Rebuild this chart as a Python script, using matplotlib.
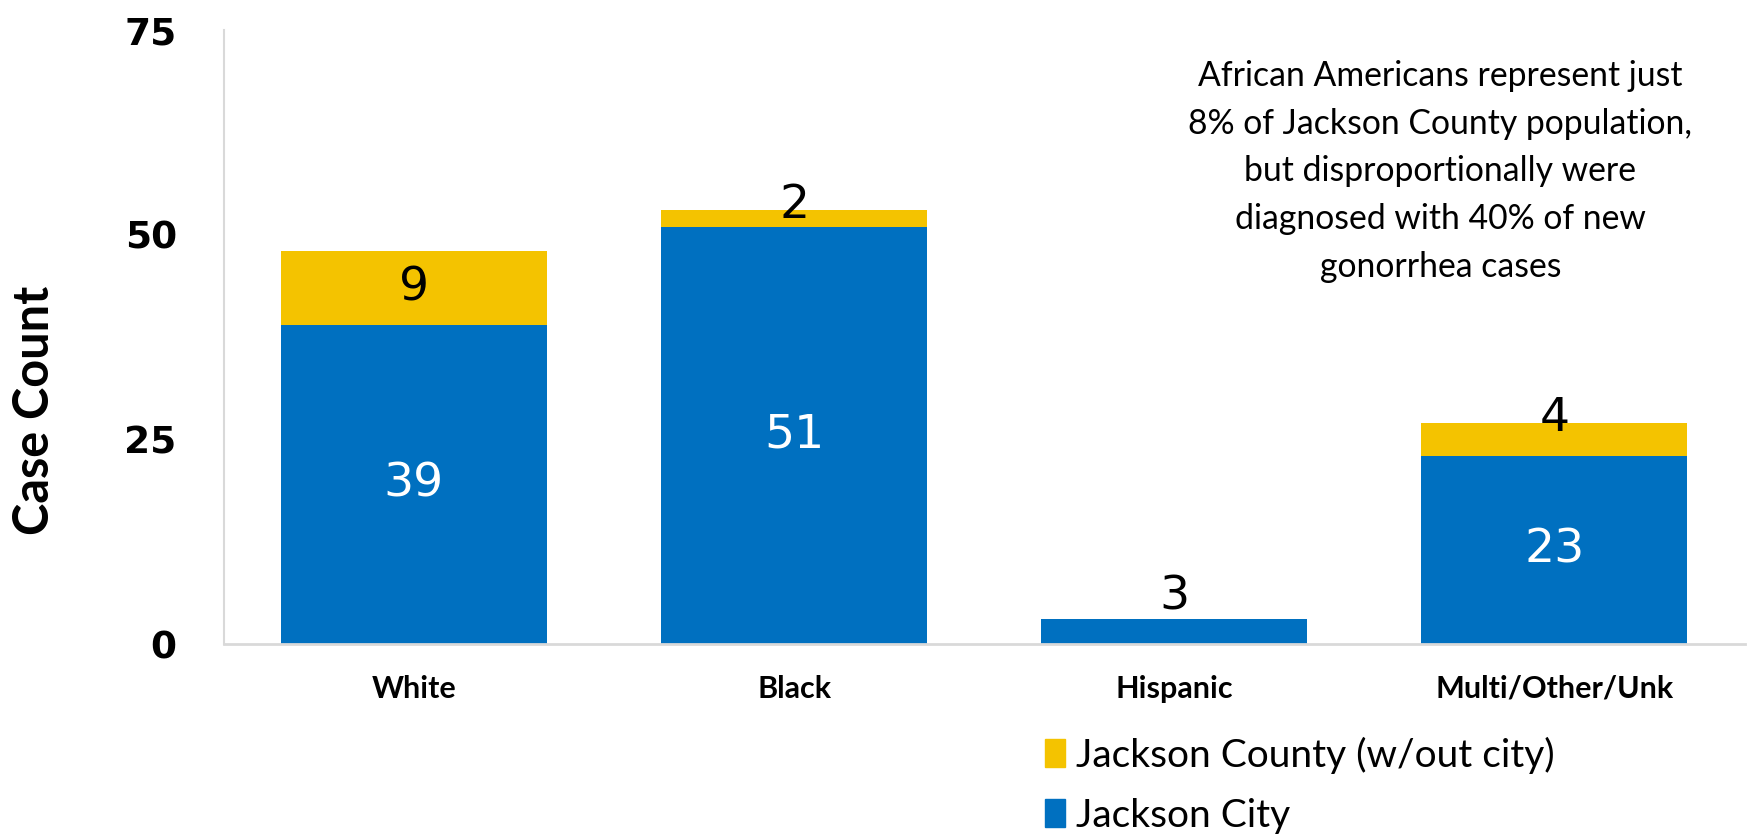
import matplotlib.pyplot as plt
from matplotlib.patches import Patch

categories = ["White", "Black", "Hispanic", "Multi/Other/Unk"]
city_counts = [39, 51, 3, 23]
county_counts = [9, 2, 0, 4]
series_names = ["Jackson City", "Jackson County (w/out city)"]
y_ticks = [0, 25, 50, 75]
note = ("African Americans represent just\n8% of Jackson County population,\n"
        "but disproportionally were\ndiagnosed with 40% of new\ngonorrhea cases")

BLUE = "#0070C0"
YELLOW = "#F4C300"
AXIS_GRAY = "#D9D9D9"


def main():
    fig = plt.figure(figsize=(17.48, 8.34), dpi=100)
    ax = fig.add_axes([0.1281, 0.2278, 0.8699, 0.7362])

    x = list(range(len(categories)))
    ax.bar(x, city_counts, width=0.7, color=BLUE, zorder=2)
    ax.bar(x, county_counts, width=0.7, bottom=city_counts, color=YELLOW, zorder=2)

    # data labels
    lbl = dict(ha="center", fontsize=34, family="DejaVu Sans")
    for i in x:
        c = city_counts[i]
        k = county_counts[i]
        if c >= 5:
            ax.text(i, c / 2, str(c), va="center", color="white", **lbl)
        elif c > 0:
            ax.text(i, c, str(c), va="bottom", color="black", **lbl)
        if k >= 5:
            ax.text(i, c + k / 2, str(k), va="center", color="black", **lbl)
        elif k > 0:
            ax.text(i, c + k + 0.6, str(k), va="center", color="black", **lbl)

    ax.set_xlim(-0.5, len(categories) - 0.5)
    ax.set_ylim(0, 75)
    ax.set_yticks(y_ticks)
    ax.set_yticklabels([str(t) for t in y_ticks], fontsize=27, fontweight="bold",
                       family="DejaVu Sans")
    ax.set_xticks(x)
    ax.set_xticklabels(categories, fontsize=22, fontweight="bold", family="Lato")
    ax.tick_params(axis="y", length=0, pad=34)
    ax.tick_params(axis="x", length=0, pad=22)

    for side in ["top", "right"]:
        ax.spines[side].set_visible(False)
    ax.spines["left"].set_color(AXIS_GRAY)
    ax.spines["bottom"].set_color(AXIS_GRAY)
    ax.spines["left"].set_linewidth(1.5)
    ax.spines["bottom"].set_linewidth(2)
    ax.spines["bottom"].set_zorder(3)

    fig.text(0.02, 0.508, "Case Count", rotation=90, ha="center", va="center",
             fontsize=35, fontweight="bold", family="Lato")

    ax.text(0.80, 0.951, note, transform=ax.transAxes, ha="center", va="top",
            fontsize=24.3, family="Lato", linespacing=1.6)

    handles = [Patch(color=YELLOW), Patch(color=BLUE)]
    fig.legend(handles, [series_names[1], series_names[0]], loc="upper left",
               bbox_to_anchor=(0.598, 0.117), frameon=False,
               prop={"family": "Lato", "size": 28},
               handlelength=0.5, handleheight=0.75, handletextpad=0.3,
               labelspacing=0.62, borderaxespad=0, borderpad=0)

    fig.savefig("out.png", dpi=100)


if __name__ == "__main__":
    main()
